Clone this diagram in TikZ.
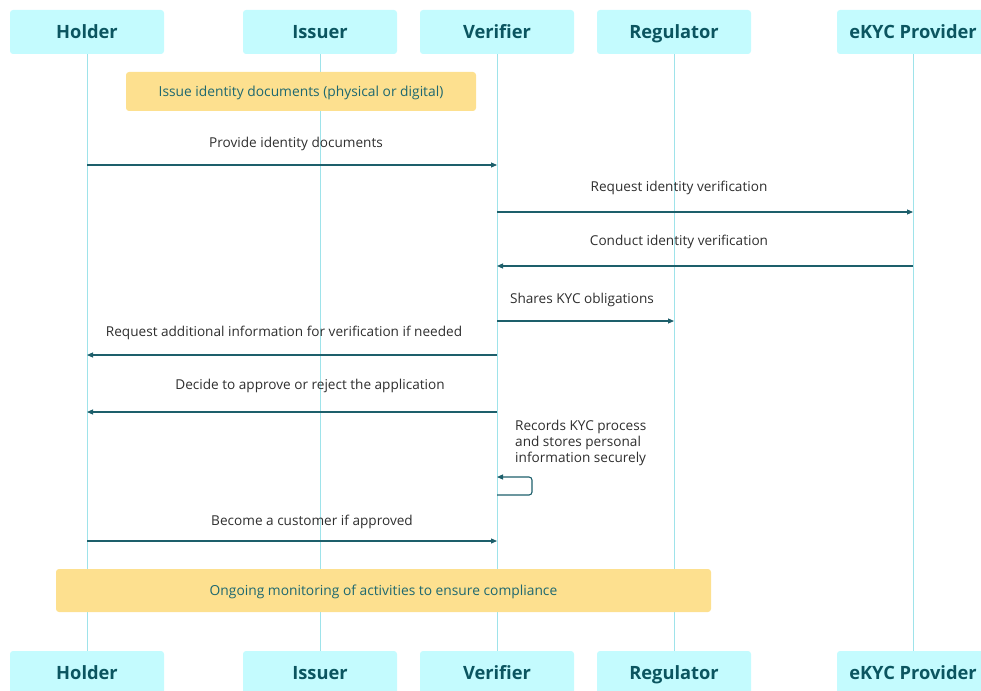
\documentclass[tikz,border=0pt]{standalone}
\usepackage{fontspec}
\setmainfont{Open Sans}
\usetikzlibrary{arrows.meta}
\definecolor{actfill}{HTML}{C4FBFE}
\definecolor{acttext}{HTML}{0B5560}
\definecolor{lifeclr}{HTML}{9EE3EA}
\definecolor{msgclr}{HTML}{1D5F6B}
\definecolor{notefill}{HTML}{FDE08F}
\definecolor{notetext}{HTML}{1E6870}
\definecolor{labclr}{HTML}{2E2E2E}
\tikzset{
  actor/.style={fill=actfill, rounded corners=3pt, minimum width=154pt, minimum height=44pt,
    inner sep=0pt, text=acttext, font=\fontsize{18.3}{21}\selectfont\bfseries,
    text height=13.2pt, text depth=0pt},
  life/.style={draw=lifeclr, line width=1pt},
  msg/.style={draw=msgclr, line width=1.1pt, -{Triangle[length=6pt,width=5pt]}},
  lab/.style={text=labclr, font=\fontsize{13.6}{16}\selectfont, inner sep=0pt,
    text height=9.8pt, text depth=0pt},
  note/.style={fill=notefill, rounded corners=3pt, inner sep=0pt, text=notetext,
    font=\fontsize{13.8}{16}\selectfont, text height=9.9pt, text depth=0pt}
}
\begin{document}
\begin{tikzpicture}[x=1pt,y=-1pt]
\useasboundingbox (0,0) rectangle (981,690);
% participants, top row
\node[actor] (holder)   at (87,32)  {Holder};
\node[actor] (issuer)   at (320,32) {Issuer};
\node[actor] (verifier) at (497,32) {Verifier};
\node[actor] (regul)    at (674,32) {Regulator};
\node[actor, minimum width=152pt] (ekyc) at (913,32) {eKYC Provider};
% participants, bottom row
\node[actor] (holderB)   at (87,673)  {Holder};
\node[actor] (issuerB)   at (320,673) {Issuer};
\node[actor] (verifierB) at (497,673) {Verifier};
\node[actor] (regulB)    at (674,673) {Regulator};
\node[actor, minimum width=152pt] (ekycB) at (913,673) {eKYC Provider};
% lifelines
\draw[life] (holder.south) -- (holderB.north);
\draw[life] (issuer.south) -- (issuerB.north);
\draw[life] (verifier.south) -- (verifierB.north);
\draw[life] (regul.south) -- (regulB.north);
\draw[life] (ekyc.south) -- (ekycB.north);
% notes
\node[note, minimum width=350pt, minimum height=39pt] (issuenote) at (301,91.5)
  {Issue identity documents (physical or digital)};
\node[note, minimum width=655pt, minimum height=43pt] (monnote) at (383.5,590.5)
  {Ongoing monitoring of activities to ensure compliance};
% anchor points of the messages on the lifelines
\coordinate (h1) at (87,165);  \coordinate (v1) at (497,165);
\coordinate (v2) at (497,212); \coordinate (e2) at (913,212);
\coordinate (e3) at (913,266); \coordinate (v3) at (497,266);
\coordinate (v4) at (497,321); \coordinate (r4) at (674,321);
\coordinate (v5) at (497,355); \coordinate (h5) at (87,355);
\coordinate (v6) at (497,412); \coordinate (h6) at (87,412);
\coordinate (v7a) at (497,495); \coordinate (v7b) at (497,477);
\coordinate (h8) at (87,541);  \coordinate (v8) at (497,541);
% messages
\draw[msg] (h1) -- (v1);
\node[lab] (l1) at (296,143) {Provide identity documents};
\draw[msg] (v2) -- (e2);
\node[lab] (l2) at (679,187) {Request identity verification};
\draw[msg] (e3) -- (v3);
\node[lab] (l3) at (679,241) {Conduct identity verification};
\draw[msg] (v4) -- (r4);
\node[lab] (l4) at (582,299) {Shares KYC obligations};
\draw[msg] (v5) -- (h5);
\node[lab] (l5) at (284,332) {Request additional information for verification if needed};
\draw[msg] (v6) -- (h6);
\node[lab] (l6) at (310,385) {Decide to approve or reject the application};
\draw[msg, rounded corners=3pt] (v7a) -- ++(35,0) |- (v7b);
\node[lab, anchor=north west, align=left, font=\fontsize{13.6}{16}\selectfont,
  text height=, text depth=] (l7) at (515,420)
  {Records KYC process\\and stores personal\\information securely};
\draw[msg] (h8) -- (v8);
\node[lab] (l8) at (312,521) {Become a customer if approved};
\end{tikzpicture}
\end{document}
